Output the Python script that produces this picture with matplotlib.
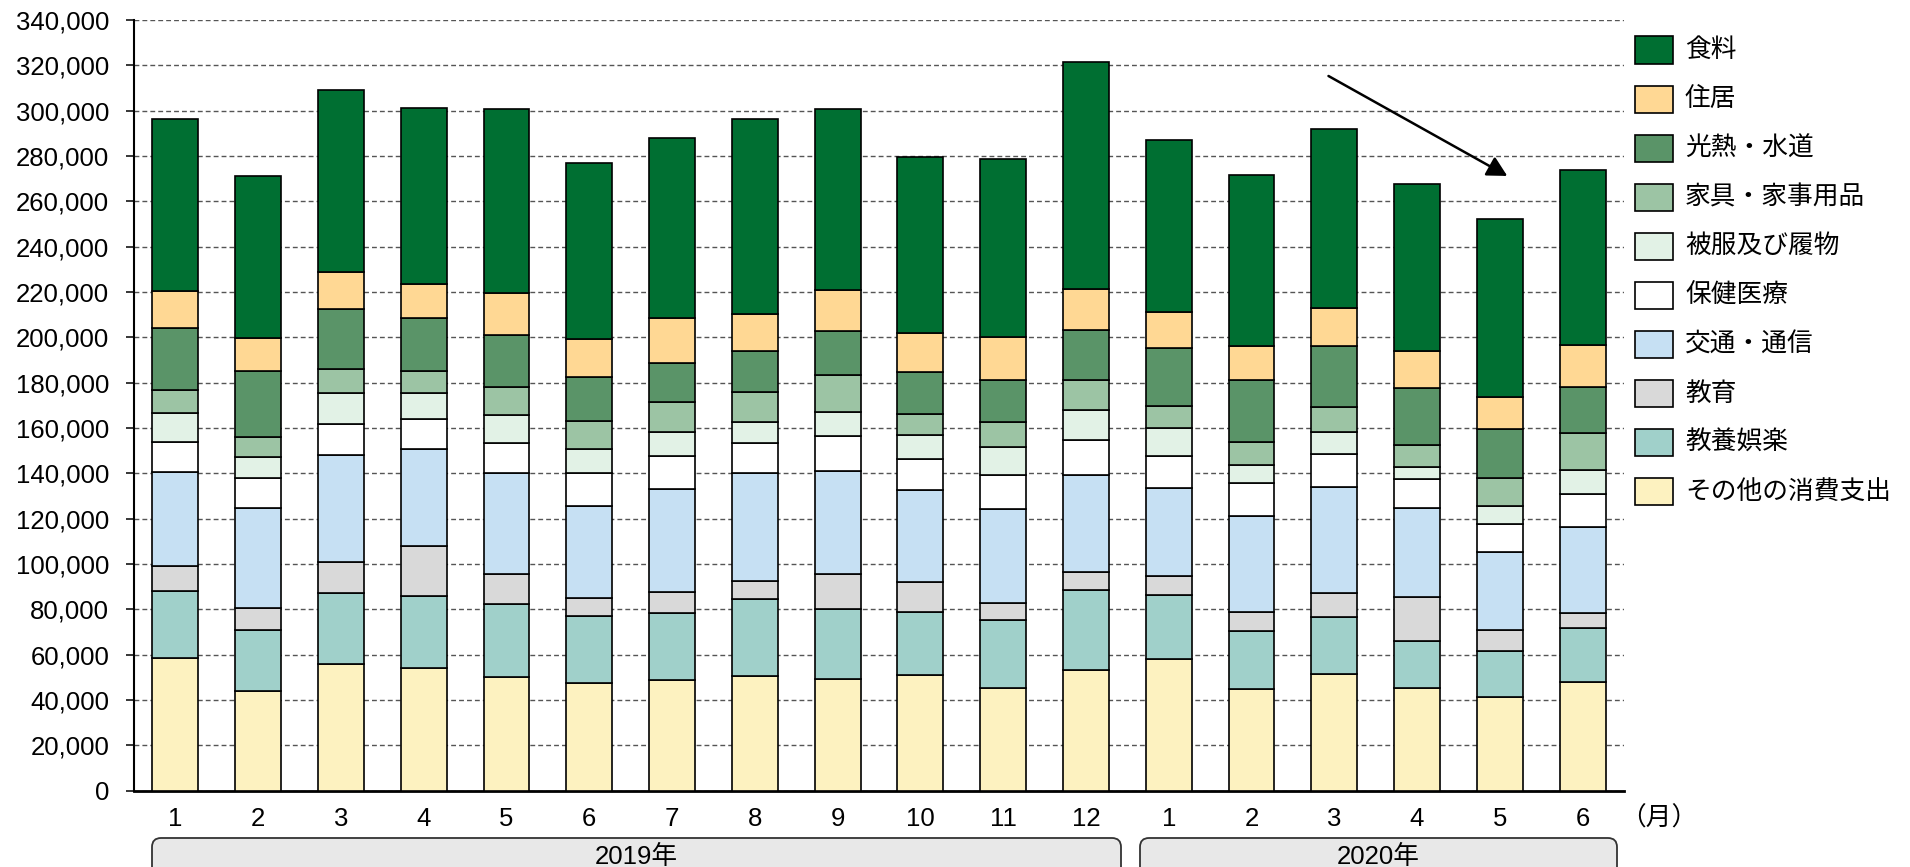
import matplotlib
matplotlib.use("Agg")
import matplotlib.pyplot as plt
from matplotlib.patches import Rectangle, FancyBboxPatch
from matplotlib.transforms import IdentityTransform
from matplotlib.ticker import FuncFormatter, MultipleLocator
import numpy as np

plt.rcParams['font.family'] = ['Liberation Sans', 'Noto Sans CJK JP']

# Monthly household consumption expenditure (yen), Jan 2019 - Jun 2020
months = ["1", "2", "3", "4", "5", "6", "7", "8", "9", "10", "11", "12",
          "1", "2", "3", "4", "5", "6"]
years = ["2019年", "2020年"]

# Legend order (top to bottom)
categories = ["食料", "住居", "光熱・水道", "家具・家事用品", "被服及び履物",
              "保健医療", "交通・通信", "教育", "教養娯楽", "その他の消費支出"]

food      = [75900, 71600, 80300, 77300, 81000, 77500, 79700, 86200, 79900, 77800, 78500, 100300,
             75900, 75300, 79300, 73700, 78300, 77200]
housing   = [16300, 14300, 16200, 15200, 18800, 17000, 19600, 16000, 17800, 17200, 19000, 18000,
             16100, 15000, 16600, 16600, 14300, 18600]
utilities = [27200, 29100, 26700, 23400, 23000, 19400, 17500, 18100, 19400, 18400, 18700, 22200,
             25500, 27300, 26900, 24900, 21400, 20000]
furniture = [10400, 9100, 10600, 9500, 12200, 12300, 12900, 13300, 16300, 9500, 11100, 13200,
             9800, 10300, 11100, 9800, 12700, 16400]
clothing  = [12500, 9200, 13400, 11600, 12300, 10700, 10600, 9200, 10700, 10500, 12400, 12900,
             12000, 8100, 9800, 5300, 7800, 10600]
medical   = [13600, 13000, 13800, 13100, 13100, 14600, 14600, 13500, 15300, 13700, 14700, 15500,
             14100, 14600, 14300, 12800, 12300, 14600]
transport = [41300, 44500, 47400, 43000, 44900, 40300, 45600, 47600, 45800, 40500, 41800, 42800,
             38800, 42200, 47000, 39100, 34300, 37900]
education = [11200, 9500, 13600, 22000, 13200, 7900, 9200, 7800, 15100, 13400, 7500, 8100,
             8700, 8200, 10600, 19400, 9200, 6800]
culture   = [29400, 26800, 31400, 31900, 32200, 29800, 29700, 33900, 30900, 27700, 30000, 35100,
             28300, 25700, 25000, 20900, 20300, 23700]
other     = [58500, 44100, 55700, 54000, 50000, 47400, 48700, 50700, 49400, 51000, 45100, 53400,
             57900, 44900, 51500, 45300, 41500, 47900]

colors = ["#006F32", "#FFD894", "#5A9468", "#9CC4A4", "#E2F2E6",
          "#FFFFFF", "#C6E0F3", "#D9D9D9", "#A0D0CA", "#FDF2C0"]

series = [food, housing, utilities, furniture, clothing,
          medical, transport, education, culture, other]

W, H = 1910, 867
fig = plt.figure(figsize=(W / 100, H / 100), dpi=100)
ax = fig.add_axes([134 / W, 1 - 790.7 / H, (1624 - 134) / W, (790.7 - 20) / H])

x = np.arange(len(months))
bottom = np.zeros(len(months))
# stack from the bottom category upward
for name, vals, col in reversed(list(zip(categories, series, colors))):
    v = np.array(vals, dtype=float)
    ax.bar(x, v, bottom=bottom, width=0.555, color=col, edgecolor="black",
           linewidth=1.2, zorder=3, label=name)
    bottom += v

ax.set_xlim(-0.5, len(months) - 0.5)
ax.set_ylim(0, 340000)
ax.yaxis.set_major_locator(MultipleLocator(20000))
ax.yaxis.set_major_formatter(FuncFormatter(lambda v, p: f"{int(v):,}"))
ax.grid(axis="y", color="#555555", linestyle=(0, (3.5, 2.2)), linewidth=1.0, zorder=0)
ax.set_axisbelow(True)

ax.set_xticks(x)
ax.set_xticklabels(months)
ax.tick_params(axis="x", length=0, pad=12, labelsize=18.5)
ax.tick_params(axis="y", direction="out", length=5.8, width=1.1, pad=12, labelsize=18.5)

for s in ["top", "right"]:
    ax.spines[s].set_visible(False)
ax.spines["left"].set_linewidth(1.5)
ax.spines["bottom"].set_linewidth(2.0)

# unit marker after the last month label
fig.text(1620 / W, 1 - 818 / H, "（月）", fontsize=18.5, ha="left", va="center")

# downward trend arrow
ax.annotate("", xy=(16.09, 271200), xytext=(13.93, 315300),
            arrowprops=dict(arrowstyle="-|>,head_length=0.6,head_width=0.32",
                            mutation_scale=20, color="black", lw=1.8,
                            shrinkA=0, shrinkB=0), zorder=5)

# year group boxes below the month labels
box_px = [(152, 1121), (1140, 1617)]
for (x0, x1), label in zip(box_px, years):
    box = FancyBboxPatch((x0, -20), x1 - x0, (H - 838) + 20,
                         boxstyle="round,pad=0,rounding_size=9",
                         facecolor="#E8E8E8", edgecolor="#333333", linewidth=1.3,
                         transform=IdentityTransform())
    fig.add_artist(box)
    fig.text((x0 + x1) / 2 / W, 1 - 857 / H, label, fontsize=18.5,
             ha="center", va="center")

# legend drawn as a column of swatches with labels
for i, (name, col) in enumerate(zip(categories, colors)):
    cy = 50 + 49.1 * i
    rect = Rectangle((1635 / W, 1 - (cy + 13.5) / H), 38 / W, 27 / H,
                     facecolor=col, edgecolor="black", linewidth=1.2,
                     transform=fig.transFigure)
    fig.add_artist(rect)
    fig.text(1685 / W, 1 - cy / H, name, fontsize=18.5, ha="left", va="center")

fig.savefig("out.png", dpi=100)
